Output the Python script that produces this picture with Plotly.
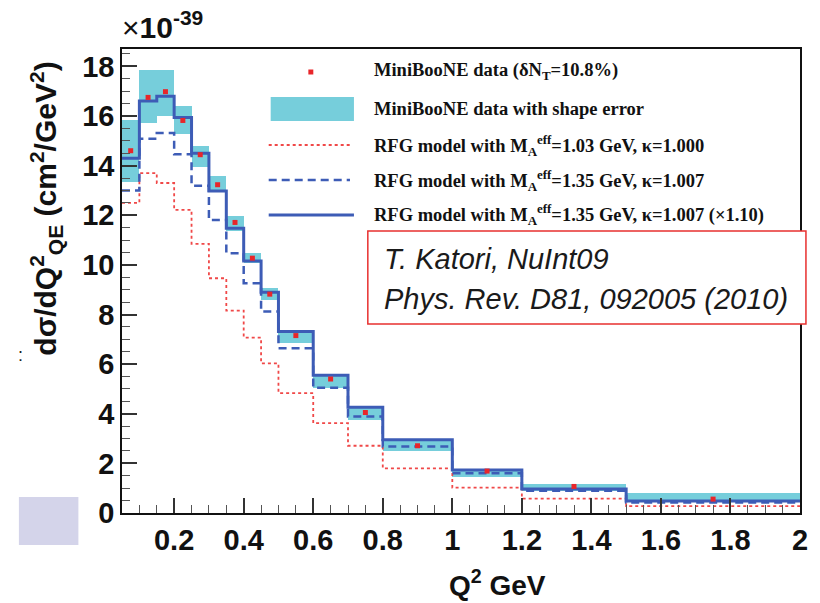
import plotly.graph_objects as go

# ---------------- data ----------------
bin_edges = [0.05, 0.1, 0.15, 0.2, 0.25, 0.3, 0.35, 0.4, 0.45, 0.5,
             0.6, 0.7, 0.8, 1.0, 1.2, 1.5, 2.0]
data_vals = [14.6, 16.75, 16.98, 15.82, 14.44, 13.23, 11.71, 10.27, 8.82,
             7.15, 5.40, 4.05, 2.71, 1.69, 1.07, 0.56]
shape_lo = [13.36, 15.71, 16.0, 15.28, 13.94, 12.92, 11.35, 10.07, 8.6,
            6.86, 5.03, 3.75, 2.48, 1.46, 0.90, 0.46]
shape_hi = [15.85, 17.86, 17.86, 16.41, 14.8, 13.59, 11.95, 10.47, 9.07,
            7.35, 5.6, 4.29, 2.95, 1.75, 1.17, 0.79]
rfg_103 = [12.5, 13.7, 13.3, 12.22, 10.85, 9.46, 8.16, 7.07, 6.03,
           4.83, 3.62, 2.71, 1.80, 1.02, 0.58, 0.28]
rfg_135 = [13.0, 15.08, 15.31, 14.46, 13.19, 11.81, 10.47, 9.26, 8.12,
           6.64, 5.05, 3.89, 2.68, 1.60, 0.90, 0.42]
rfg_135_x110 = [14.3, 16.6, 16.8, 15.94, 14.5, 12.98, 11.48, 10.16, 8.90,
                7.31, 5.55, 4.26, 2.95, 1.73, 0.97, 0.48]

legend_labels = [
    "MiniBooNE data (δN<sub>T</sub>=10.8%)",
    "MiniBooNE data with shape error",
    "RFG model with M<sub>A</sub><sup>eff</sup>=1.03 GeV, κ=1.000",
    "RFG model with M<sub>A</sub><sup>eff</sup>=1.35 GeV, κ=1.007",
    "RFG model with M<sub>A</sub><sup>eff</sup>=1.35 GeV, κ=1.007 (×1.10)",
]

# ---------------- derived helpers ----------------
centers = [(a + b) / 2 for a, b in zip(bin_edges[:-1], bin_edges[1:])]
widths = [b - a for a, b in zip(bin_edges[:-1], bin_edges[1:])]

def step_y(vals):
    return list(vals) + [vals[-1]]

CYAN = "#76cedb"
RED = "#e8262a"
RED_LINE = "#f04848"
BLUE = "#3d5cb6"

fig = go.Figure()

fig.add_trace(go.Bar(x=centers, y=[h - l for h, l in zip(shape_hi, shape_lo)],
                     base=shape_lo, width=widths, marker=dict(color=CYAN, line=dict(width=0)),
                     showlegend=False))
fig.add_trace(go.Scatter(x=bin_edges, y=step_y(rfg_103), mode="lines", line_shape="hv",
                         line=dict(color=RED_LINE, width=1.8, dash="dot"), showlegend=False))
fig.add_trace(go.Scatter(x=bin_edges, y=step_y(rfg_135), mode="lines", line_shape="hv",
                         line=dict(color=BLUE, width=2.5, dash="8px,5px"), showlegend=False))
fig.add_trace(go.Scatter(x=bin_edges, y=step_y(rfg_135_x110), mode="lines", line_shape="hv",
                         line=dict(color=BLUE, width=3), showlegend=False))
fig.add_trace(go.Scatter(x=centers, y=data_vals, mode="markers",
                         marker=dict(color=RED, size=5, symbol="square", line=dict(width=0)),
                         showlegend=False))

# ---------------- layout geometry ----------------
W, H = 820, 603
L, R, T, B = 122, 806, 49, 513
pw, ph = R - L, B - T

def px(x):
    return (x - L) / pw

def py(y):
    return (B - y) / ph

shapes = []
annotations = []

# manual legend
rows = [72, 109, 145, 180, 215]
shapes.append(dict(type="rect", xref="paper", yref="paper", layer="above",
                   x0=px(272), x1=px(356), y0=py(121), y1=py(97),
                   fillcolor=CYAN, line=dict(width=0)))
shapes.append(dict(type="rect", xref="paper", yref="paper", layer="above",
                   x0=px(310), x1=px(315), y0=py(rows[0] + 2.5), y1=py(rows[0] - 2.5),
                   fillcolor=RED, line=dict(width=0)))
shapes.append(dict(type="line", xref="paper", yref="paper", layer="above",
                   x0=px(270), x1=px(352), y0=py(rows[2]), y1=py(rows[2]),
                   line=dict(color=RED_LINE, width=1.8, dash="dot")))
shapes.append(dict(type="line", xref="paper", yref="paper", layer="above",
                   x0=px(270), x1=px(352), y0=py(rows[3]), y1=py(rows[3]),
                   line=dict(color=BLUE, width=2.5, dash="8px,5px")))
shapes.append(dict(type="line", xref="paper", yref="paper", layer="above",
                   x0=px(270), x1=px(356), y0=py(rows[4]), y1=py(rows[4]),
                   line=dict(color=BLUE, width=3)))
for lab, yy in zip(legend_labels, rows):
    annotations.append(dict(text="<b>" + lab + "</b>", xref="paper", yref="paper",
                            x=px(374), y=py(yy), xanchor="left", yanchor="middle",
                            showarrow=False,
                            font=dict(family="Liberation Serif", size=18.5, color="#111")))

# reference box
shapes.append(dict(type="rect", xref="paper", yref="paper", layer="above",
                   x0=px(370), x1=px(812), y0=py(324), y1=py(231),
                   fillcolor="white", line=dict(color="#e8302f", width=1.5)))
annotations.append(dict(text="<i>T. Katori, NuInt09</i>", xref="paper", yref="paper",
                        x=px(384), y=py(259), xanchor="left", yanchor="middle", showarrow=False,
                        font=dict(family="Liberation Sans", size=29, color="#1a1a1a")))
annotations.append(dict(text="<i>Phys. Rev. D81, 092005 (2010)</i>", xref="paper", yref="paper",
                        x=px(384), y=py(299), xanchor="left", yanchor="middle", showarrow=False,
                        font=dict(family="Liberation Sans", size=29, color="#1a1a1a")))

# decoration at left
shapes.append(dict(type="rect", xref="paper", yref="paper", layer="above",
                   x0=px(18), x1=px(78), y0=py(545), y1=py(497),
                   fillcolor="#d4d4ea", line=dict(width=0)))
annotations.append(dict(text=":", xref="paper", yref="paper", x=px(20), y=py(355),
                        xanchor="center", yanchor="middle", showarrow=False,
                        font=dict(family="Liberation Sans", size=18, color="#222")))

# y title
annotations.append(dict(text="<b>dσ/dQ<sup>2</sup><sub>QE</sub> (cm<sup>2</sup>/GeV<sup>2</sup>)</b>",
                        xref="paper", yref="paper", x=px(45), y=py(209), textangle=-90,
                        xanchor="center", yanchor="middle", showarrow=False,
                        font=dict(family="Liberation Sans", size=30, color="#111")))
# exponent
annotations.append(dict(text="×<b>10<sup>-39</sup></b>", xref="paper", yref="paper",
                        x=px(120), y=py(46), xanchor="left", yanchor="bottom", showarrow=False,
                        font=dict(family="Liberation Sans", size=30, color="#111")))
# x title
annotations.append(dict(text="<b>Q<sup>2</sup> GeV</b>", xref="paper", yref="paper",
                        x=px(501), y=py(583), xanchor="center", yanchor="middle", showarrow=False,
                        font=dict(family="Liberation Sans", size=28, color="#111")))

axis_common = dict(showgrid=False, zeroline=False, showline=True, mirror=True,
                   linecolor="#111", linewidth=1.5, ticks="inside", tickwidth=1.5,
                   tickcolor="#333",
                   tickfont=dict(family="Liberation Sans", size=29, color="#111", weight="bold"))

fig.update_layout(
    width=W, height=H,
    margin=dict(l=L, r=W - R, t=T, b=H - B, pad=0),
    paper_bgcolor="white", plot_bgcolor="white",
    barmode="overlay", bargap=0,
    showlegend=False,
    xaxis=dict(range=[0.05, 2.0], tick0=0, dtick=0.2, ticklen=15,
               minor=dict(ticks="inside", dtick=0.05, tick0=0, ticklen=8, tickwidth=1.2, tickcolor="#555"),
               **axis_common),
    yaxis=dict(range=[0, 18.7], tick0=0, dtick=2, ticklen=15,
               minor=dict(ticks="inside", dtick=0.5, tick0=0, ticklen=8, tickwidth=1.2, tickcolor="#555"),
               **axis_common),
    shapes=shapes, annotations=annotations,
)

fig.write_html("out.html")
